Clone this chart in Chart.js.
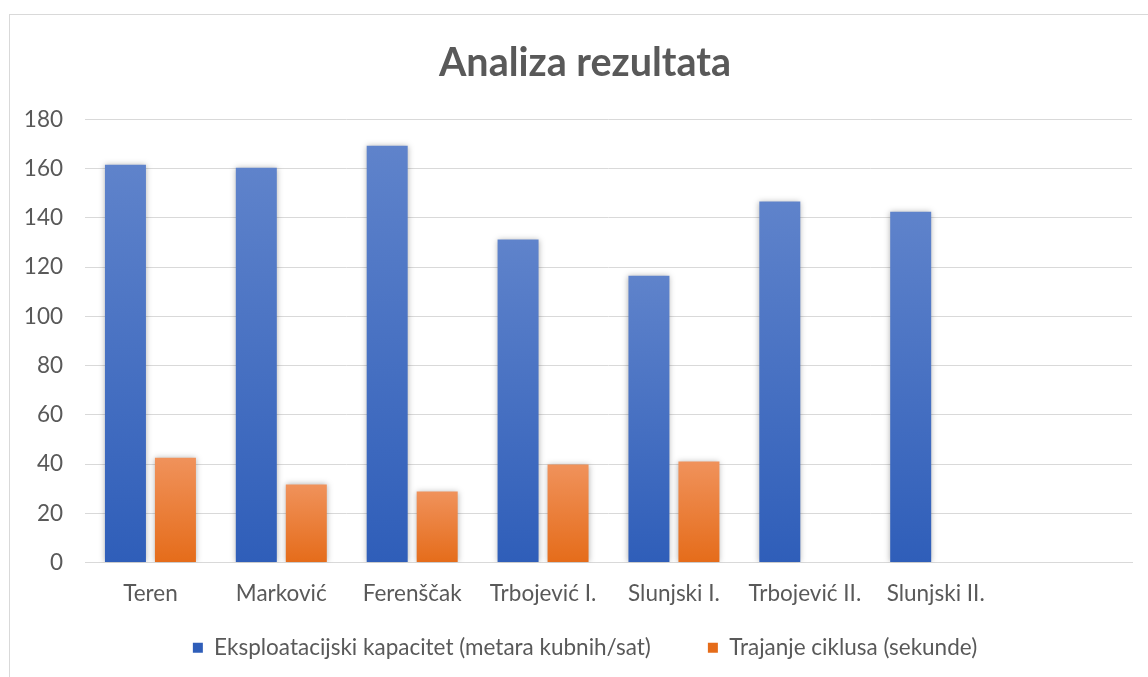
<!DOCTYPE html>
<html>
<head>
<meta charset="utf-8">
<script src="https://cdn.jsdelivr.net/npm/chart.js@4"></script>
<style>
  html, body { margin: 0; padding: 0; background: #fff; overflow: hidden; width: 1148px; height: 677px; }
  #okvir {
    position: absolute; left: 9px; top: 14px;
    width: 1160px; height: 720px;
    border: 1px solid #d9d9d9; box-sizing: border-box;
  }
  #wrap { position: absolute; left: 9px; top: 14px; width: 1152px; height: 663px; }
</style>
</head>
<body>
<div id="okvir"></div>
<div id="wrap"><canvas id="grafikon"></canvas></div>
<script>
// ===============================
// Podaci
// ===============================
const kategorije = ["Teren", "Marković", "Ferenščak", "Trbojević I.", "Slunjski I.", "Trbojević II.", "Slunjski II.", ""];
const kapacitet = [161.6, 160.4, 169.3, 131.2, 116.5, 146.6, 142.5, null];
const trajanje = [42.6, 31.7, 28.8, 39.8, 41.0, null, null, null];
const yTicks = [0, 20, 40, 60, 80, 100, 120, 140, 160, 180];

const tekstBoja = "#595959";
const font = "Lato, 'Open Sans', sans-serif";
const velicina = 22.5;

// gradijent po stupcu, od vrha stupca do osi
function gradijent(ctx, gornja, donja) {
    const chart = ctx.chart;
    const area = chart.chartArea;
    if (!area || ctx.raw == null) return donja;
    const y = chart.scales.y;
    const top = y.getPixelForValue(ctx.raw);
    const g = chart.ctx.createLinearGradient(0, top, 0, y.getPixelForValue(0));
    g.addColorStop(0, gornja);
    g.addColorStop(1, donja);
    return g;
}

// lagana sjena oko stupaca
const sjena = {
    id: "sjena",
    beforeDatasetsDraw(chart) {
        const c = chart.ctx;
        c.save();
        c.shadowColor = "rgba(0,0,0,0.30)";
        c.shadowBlur = 6;
        c.shadowOffsetX = 0;
        c.shadowOffsetY = 0;
    },
    afterDatasetsDraw(chart) {
        chart.ctx.restore();
    }
};

new Chart(document.getElementById("grafikon").getContext("2d"), {
    type: "bar",
    data: {
        labels: kategorije,
        datasets: [{
            label: "Eksploatacijski kapacitet (metara kubnih/sat)",
            data: kapacitet,
            backgroundColor: ctx => gradijent(ctx, "#5f83cb", "#2f5eb9"),
            categoryPercentage: 0.764,
            barPercentage: 0.82
        }, {
            label: "Trajanje ciklusa (sekunde)",
            data: trajanje,
            backgroundColor: ctx => gradijent(ctx, "#f0925b", "#e56c1a"),
            categoryPercentage: 0.764,
            barPercentage: 0.82
        }]
    },
    options: {
        responsive: true,
        maintainAspectRatio: false,
        animation: false,
        layout: { padding: { left: 0, right: 0, top: 0, bottom: 8 } },
        plugins: {
            title: {
                display: true,
                text: "Analiza rezultata",
                color: tekstBoja,
                font: { family: font, size: 39.5, weight: "bold" },
                padding: { top: 26, bottom: 32 }
            },
            legend: {
                position: "bottom",
                labels: {
                    color: tekstBoja,
                    font: { family: font, size: velicina },
                    boxWidth: 10,
                    boxHeight: 10,
                    padding: 11,
                    // razmak izmedu stavki legende kao u predlosku
                    generateLabels: chart => {
                        const stavke = Chart.defaults.plugins.legend.labels.generateLabels(chart);
                        stavke[0].text = stavke[0].text + "        ";
                        return stavke;
                    }
                }
            },
            tooltip: { enabled: false }
        },
        scales: {
            x: {
                grid: { display: false, drawTicks: false },
                border: { display: true, color: "#d9d9d9", width: 1 },
                ticks: { color: tekstBoja, font: { family: font, size: velicina }, padding: 18, maxRotation: 0, autoSkip: false }
            },
            y: {
                min: 0,
                max: 180,
                afterBuildTicks: axis => { axis.ticks = yTicks.map(v => ({ value: v })); },
                afterFit: axis => { axis.width = 76; },
                grid: { color: "#d9d9d9", lineWidth: 1, drawTicks: false },
                border: { display: false },
                ticks: { color: tekstBoja, font: { family: font, size: velicina }, padding: 22 }
            },
            desno: {
                position: "right",
                afterFit: axis => { axis.width = 29; },
                grid: { display: false, drawTicks: false },
                border: { display: false },
                ticks: { display: false }
            }
        }
    },
    plugins: [sjena]
});
</script>
</body>
</html>
